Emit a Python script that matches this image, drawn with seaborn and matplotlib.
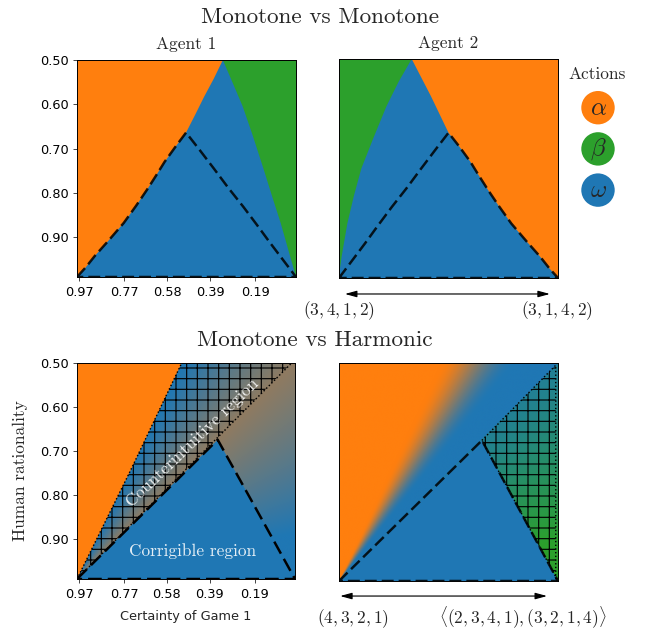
import numpy as np
import matplotlib
matplotlib.use("Agg")
import matplotlib.pyplot as plt
import seaborn as sns

# action colours
action_names = ["alpha", "beta", "omega"]
action_symbols = [r"$\alpha$", r"$\beta$", r"$\omega$"]
action_colors = {"alpha": "#ff7f0e", "beta": "#2ca02c", "omega": "#1f77b4"}

# axes: certainty of game 1 runs from high (left) to low (right),
# human rationality from 0.5 (top) to 0.99 (bottom)
cert_lim = (0.98, 0.01)
rat_lim = (0.99, 0.50)
cert_ticks = [0.97, 0.77, 0.58, 0.39, 0.19]
rat_ticks = [0.50, 0.60, 0.70, 0.80, 0.90]

# Monotone vs Monotone, agent 1 (boundaries as certainty / rationality pairs)
a1_orange_cert = [0.98, 0.941, 0.902, 0.839, 0.773, 0.718, 0.670, 0.631, 0.592,
                  0.544, 0.497, 0.456, 0.417, 0.374, 0.334]
a1_orange_rat = [0.99, 0.968, 0.943, 0.907, 0.868, 0.829, 0.793, 0.762, 0.730,
                 0.696, 0.664, 0.623, 0.583, 0.542, 0.500]
a1_green_cert = [0.334, 0.291, 0.246, 0.204, 0.155, 0.117, 0.078, 0.044, 0.01]
a1_green_rat = [0.500, 0.551, 0.605, 0.667, 0.744, 0.806, 0.868, 0.929, 0.99]
a1_peak_cert, a1_peak_rat = 0.497, 0.664
a1_right_cert = [0.497, 0.437, 0.374, 0.311, 0.244, 0.185, 0.126, 0.068, 0.01]
a1_right_rat = [0.664, 0.703, 0.745, 0.788, 0.831, 0.871, 0.912, 0.951, 0.99]

# Monotone vs Monotone, agent 2
a2_green_cert = [0.98, 0.976, 0.968, 0.943, 0.914, 0.881, 0.827, 0.770, 0.716, 0.658]
a2_green_rat = [0.99, 0.970, 0.941, 0.868, 0.806, 0.745, 0.676, 0.606, 0.551, 0.500]
a2_orange_cert = [0.658, 0.573, 0.495, 0.447, 0.398, 0.359, 0.320, 0.272, 0.217,
                  0.151, 0.088, 0.049, 0.01]
a2_orange_rat = [0.500, 0.583, 0.665, 0.696, 0.730, 0.762, 0.793, 0.829, 0.868,
                 0.907, 0.943, 0.968, 0.99]
a2_left_cert = [0.98, 0.922, 0.864, 0.805, 0.746, 0.679, 0.616, 0.553, 0.495]
a2_left_rat = [0.99, 0.951, 0.912, 0.871, 0.831, 0.788, 0.745, 0.703, 0.665]

# Monotone vs Harmonic, agent 1
h1_orange_cert = [0.98, 0.743, 0.514]
h1_orange_rat = [0.99, 0.745, 0.500]
h1_hatch_cert = [0.98, 0.743, 0.514, 0.025, 0.98]
h1_hatch_rat = [0.99, 0.745, 0.500, 0.500, 0.99]
h1_dash_cert = [0.98, 0.354, 0.01, 0.98]
h1_dash_rat = [0.99, 0.674, 0.99, 0.99]

# Monotone vs Harmonic, agent 2
h2_hatch_cert = [0.347, 0.020, 0.020, 0.01, 0.347]
h2_hatch_rat = [0.674, 0.505, 0.99, 0.99, 0.674]
h2_dash_cert = [0.98, 0.347, 0.01, 0.98]
h2_dash_rat = [0.99, 0.674, 0.99, 0.99]

BLUE = np.array([31, 119, 180]) / 255
ORANGE = np.array([255, 127, 14]) / 255
GREEN = np.array([44, 160, 44]) / 255

DPI = 64
SERIF = "cmr10"

sns.set_style("ticks")
plt.rcParams["font.family"] = ["DejaVu Sans"]
plt.rcParams["mathtext.fontset"] = "cm"
plt.rcParams["axes.edgecolor"] = "black"
plt.rcParams["axes.linewidth"] = 1.1
plt.rcParams["xtick.color"] = "black"
plt.rcParams["ytick.color"] = "black"
plt.rcParams["xtick.labelsize"] = 14.5
plt.rcParams["ytick.labelsize"] = 14.5
plt.rcParams["xtick.major.size"] = 4
plt.rcParams["ytick.major.size"] = 4
plt.rcParams["xtick.major.pad"] = 6
plt.rcParams["ytick.major.pad"] = 5.5
plt.rcParams["hatch.linewidth"] = 1.3
plt.rcParams["hatch.color"] = "black"


def angle_field(n=400):
    # angle seen from the bottom-left corner of a panel, in degrees
    u = np.linspace(0, 1, n)
    v = np.linspace(0, 1, n)
    uu, vv = np.meshgrid(u, v)
    return np.degrees(np.arctan2(1 - vv, uu))


def smooth(t):
    t = np.clip(t, 0, 1)
    return t * t * (3 - 2 * t)


def mix(c0, c1, w):
    return (1 - w)[..., None] * c0 + w[..., None] * c1


def setup(ax, ticks):
    ax.set_xlim(*cert_lim)
    ax.set_ylim(*rat_lim)
    if ticks:
        ax.set_xticks(cert_ticks)
        ax.set_xticklabels([f"{t:.2f}" for t in cert_ticks])
        ax.set_yticks(rat_ticks)
        ax.set_yticklabels([f"{t:.2f}" for t in rat_ticks])
    else:
        ax.set_xticks([])
        ax.set_yticks([])
    for s in ax.spines.values():
        s.set_visible(True)
        s.set_zorder(10)


def dashed(ax, x, y, color="black", alpha=0.85, dashes=(4.8, 2.0)):
    ax.plot(x, y, color=color, alpha=alpha, lw=2.8, dashes=dashes,
            solid_capstyle="butt", zorder=5)


def dotted(ax, x, y):
    ax.plot(x, y, color="black", lw=1.6, linestyle=(0, (1, 1.6)), zorder=6)


def hatched(ax, x, y):
    ax.fill(x, y, facecolor="none", edgecolor="black", hatch="+", lw=0, zorder=4)


fig = plt.figure(figsize=(645 / DPI, 629 / DPI), dpi=DPI)
ax_tl = fig.add_axes([77 / 645, 1 - 277 / 629, 219 / 645, 217 / 629])
ax_tr = fig.add_axes([339 / 645, 1 - 278 / 629, 219 / 645, 219 / 629])
ax_bl = fig.add_axes([77 / 645, 1 - 579 / 629, 218 / 645, 216 / 629])
ax_br = fig.add_axes([339 / 645, 1 - 581 / 629, 219 / 645, 218 / 629])

# ---- Monotone vs Monotone, agent 1
ax = ax_tl
ax.set_facecolor(action_colors["omega"])
ax.fill(a1_orange_cert + [cert_lim[0]], a1_orange_rat + [rat_lim[1]],
        color=action_colors["alpha"], lw=0)
ax.fill(a1_green_cert + [cert_lim[1]], a1_green_rat + [rat_lim[1]],
        color=action_colors["beta"], lw=0)
n_left = a1_orange_rat.index(a1_peak_rat) + 1
dashed(ax, a1_orange_cert[:n_left] + a1_right_cert[1:] + [cert_lim[0]],
       a1_orange_rat[:n_left] + a1_right_rat[1:] + [rat_lim[0]])
setup(ax, True)
ax.set_title("Agent 1", fontfamily=SERIF, fontsize=19.5, pad=12.4)

# ---- Monotone vs Monotone, agent 2
ax = ax_tr
ax.set_facecolor(action_colors["omega"])
ax.fill(a2_green_cert + [cert_lim[0]], a2_green_rat + [rat_lim[1]],
        color=action_colors["beta"], lw=0)
ax.fill(a2_orange_cert + [cert_lim[1]], a2_orange_rat + [rat_lim[1]],
        color=action_colors["alpha"], lw=0)
n_peak = a2_orange_cert.index(a2_left_cert[-1])
dashed(ax, a2_left_cert + a2_orange_cert[n_peak + 1:] + [cert_lim[0]],
       a2_left_rat + a2_orange_rat[n_peak + 1:] + [rat_lim[0]])
setup(ax, False)
ax.set_title("Agent 2", fontfamily=SERIF, fontsize=19.5, pad=12.4)

extent = (cert_lim[0], cert_lim[1], rat_lim[0], rat_lim[1])
theta = angle_field()

# ---- Monotone vs Harmonic, agent 1
ax = ax_bl
w = np.where(theta >= 45, 0.5 * np.clip((64 - theta) / 19, 0, 1),
             0.5 * np.clip((theta - 12) / 33, 0, 1))
ax.imshow(mix(BLUE, ORANGE, w), extent=extent, origin="upper", aspect="auto",
          interpolation="bilinear", zorder=0)
ax.fill(h1_orange_cert + [cert_lim[0]], h1_orange_rat + [rat_lim[1]],
        color=action_colors["alpha"], lw=0, zorder=1)
ax.fill(h1_dash_cert, h1_dash_rat, color=action_colors["omega"], lw=0, zorder=1)
hatched(ax, h1_hatch_cert, h1_hatch_rat)
dotted(ax, h1_hatch_cert, h1_hatch_rat)
dashed(ax, h1_dash_cert, h1_dash_rat, alpha=1, dashes=(5.5, 2.4))
ax.text(0.465, 0.926, "Corrigible region", fontfamily=SERIF, fontsize=19.5,
        color="white", alpha=0.88, ha="center", va="center", zorder=7)
ax.text(0.464, 0.681, "Counterintuitive region", fontfamily=SERIF, fontsize=19.5,
        color="white", alpha=0.88, ha="center", va="center", rotation=44,
        rotation_mode="anchor", zorder=7)
setup(ax, True)
ax.set_ylabel("Human rationality", fontfamily=SERIF, fontsize=19.5)
ax.yaxis.set_label_coords(-0.225, 0.5)
ax.set_xlabel("Certainty of Game 1", fontsize=14.5)
ax.xaxis.set_label_coords(0.5, -0.145)

# ---- Monotone vs Harmonic, agent 2
ax = ax_br
w_o = smooth((theta - 51) / 14)
w_g = np.clip((55 - theta) / 45, 0, 1)
rgb = np.where((theta >= 45)[..., None], mix(BLUE, ORANGE, w_o), mix(BLUE, GREEN, w_g))
ax.imshow(rgb, extent=extent, origin="upper", aspect="auto",
          interpolation="bilinear", zorder=0)
ax.fill(h2_dash_cert, h2_dash_rat, color=action_colors["omega"], lw=0, zorder=1)
hatched(ax, h2_hatch_cert, h2_hatch_rat)
dotted(ax, h2_hatch_cert, h2_hatch_rat)
dashed(ax, h2_dash_cert, h2_dash_rat)
setup(ax, False)

# ---- strategy annotations under the right-hand panels
arrow = dict(arrowstyle="<|-|>,head_length=0.55,head_width=0.15", color="black",
             lw=1.3, mutation_scale=20, shrinkA=0, shrinkB=0)
ax_tr.annotate("", xy=(0.963, -0.073), xytext=(0.027, -0.073),
               xycoords="axes fraction", arrowprops=arrow, annotation_clip=False)
ax_tr.text(0.002, -0.169, r"$(3,4,1,2)$", transform=ax_tr.transAxes,
           fontsize=19.5, ha="center", va="baseline")
ax_tr.text(0.994, -0.169, r"$(3,1,4,2)$", transform=ax_tr.transAxes,
           fontsize=19.5, ha="center", va="baseline")
ax_br.annotate("", xy=(0.95, -0.069), xytext=(0.005, -0.069),
               xycoords="axes fraction", arrowprops=arrow, annotation_clip=False)
ax_br.text(0.064, -0.193, r"$(4,3,2,1)$", transform=ax_br.transAxes,
           fontsize=19.5, ha="center", va="baseline")
ax_br.text(0.84, -0.193, r"$\langle(2,3,4,1),(3,2,1,4)\rangle$",
           transform=ax_br.transAxes, fontsize=19.5, ha="center", va="baseline")

# ---- row titles
fig.text(320 / 645, 1 - 23 / 629, "Monotone vs Monotone", fontfamily=SERIF,
         fontsize=26, ha="center", va="baseline")
fig.text(315 / 645, 1 - 346.5 / 629, "Monotone vs Harmonic", fontfamily=SERIF,
         fontsize=26, ha="center", va="baseline")

# ---- legend of actions
lax = fig.add_axes([578 / 645, 1 - 210.7 / 629, 40 / 645, 123.6 / 629])
sns.scatterplot(x=[0, 0, 0], y=[0, 1, 2], hue=action_names, palette=action_colors,
                s=1413, linewidth=0, legend=False, ax=lax)
for i, sym in enumerate(action_symbols):
    lax.text(0, i, sym, fontsize=28, ha="center", va="center")
lax.set_xlim(-1, 1)
lax.set_ylim(2.5, -0.5)
lax.axis("off")
fig.text(597 / 645, 1 - 79 / 629, "Actions", fontfamily=SERIF, fontsize=19.5,
         ha="center", va="baseline")

fig.savefig("out.png", dpi=DPI)
plt.close(fig)
